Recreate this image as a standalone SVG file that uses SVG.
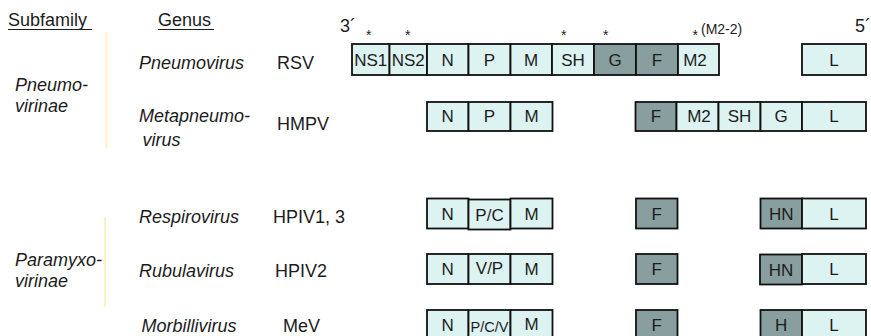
<svg xmlns="http://www.w3.org/2000/svg" width="871" height="336" viewBox="0 0 871 336">
  <style>
    text { font-family: "Liberation Sans", Arial, Helvetica, sans-serif; fill: #1c1c1c; }
    .hdr { font-size: 18px; }
    .it { font-size: 18px; font-style: italic; }
    .virus { font-size: 18px; }
    .end { font-size: 18px; }
    .star { font-size: 14px; }
    .note { font-size: 14px; }
    .gene { font-size: 17px; text-anchor: middle; }
    .small { font-size: 14px; text-anchor: middle; }
    .lt { fill: #dcf3f2; stroke: #111; stroke-width: 1.8; }
    .dk { fill: #899f9f; stroke: #111; stroke-width: 1.8; }
    .bracket { stroke: #fbf3c4; stroke-width: 2.2; fill: none; }
    .ul { stroke: #1c1c1c; stroke-width: 1.2; }
  </style>

  <!-- column headings -->
  <g id="headings">
    <text class="hdr" x="8" y="26">Subfamily</text>
    <line class="ul" x1="8" y1="29.5" x2="92" y2="29.5"/>
    <text class="hdr" x="158" y="26">Genus</text>
    <line class="ul" x1="158" y1="29.5" x2="214" y2="29.5"/>
  </g>

  <!-- subfamily brackets -->
  <g id="connectors">
    <line class="bracket" x1="106.5" y1="32" x2="106.5" y2="148"/>
    <line class="bracket" x1="105" y1="217" x2="105" y2="307"/>
  </g>

  <!-- subfamily labels -->
  <g id="pneumovirinae">
    <text class="it" x="15" y="91">Pneumo-</text>
    <text class="it" x="15" y="112">virinae</text>
  </g>
  <g id="paramyxovirinae">
    <text class="it" x="15" y="266">Paramyxo-</text>
    <text class="it" x="15" y="287">virinae</text>
  </g>

  <!-- genome ends and edited genes -->
  <g id="ends">
    <text class="end" x="340" y="32">3´</text>
    <text class="end" x="855" y="32">5´</text>
    <text class="star" x="366" y="40">*</text>
    <text class="star" x="405" y="40">*</text>
    <text class="star" x="561" y="40">*</text>
    <text class="star" x="603" y="40">*</text>
    <text class="star" x="692.5" y="40">*</text>
    <text class="note" x="701" y="34">(M2-2)</text>
  </g>

  <!-- RSV -->
  <g id="rsv">
    <text class="it" x="139" y="69">Pneumovirus</text>
    <text class="virus" x="277" y="69">RSV</text>
    <rect class="lt" x="352" y="44" width="37.5" height="31"/>
    <rect class="lt" x="389.5" y="44" width="37.5" height="31"/>
    <rect class="lt" x="427" y="44" width="41.5" height="31"/>
    <rect class="lt" x="468.5" y="44" width="42" height="31"/>
    <rect class="lt" x="510.5" y="44" width="41.5" height="31"/>
    <rect class="lt" x="552" y="44" width="42" height="31"/>
    <rect class="dk" x="594" y="44" width="42" height="31"/>
    <rect class="dk" x="636" y="44" width="42" height="31"/>
    <rect class="lt" x="678" y="44" width="41" height="31"/>
    <rect class="lt" x="802" y="44" width="64" height="31"/>
    <text class="gene" x="370.7" y="65.5">NS1</text>
    <text class="gene" x="408.2" y="65.5">NS2</text>
    <text class="gene" x="447.7" y="65.5">N</text>
    <text class="gene" x="489.5" y="65.5">P</text>
    <text class="gene" x="531.2" y="65.5">M</text>
    <text class="gene" x="573" y="65.5">SH</text>
    <text class="gene" x="615" y="65.5">G</text>
    <text class="gene" x="657" y="65.5">F</text>
    <text class="gene" x="695" y="65.5">M2</text>
    <text class="gene" x="834" y="65.5">L</text>
  </g>

  <!-- HMPV -->
  <g id="hmpv">
    <text class="it" x="139" y="122">Metapneumo-</text>
    <text class="it" x="142.5" y="146">virus</text>
    <text class="virus" x="277" y="130">HMPV</text>
    <rect class="lt" x="427" y="102" width="41.5" height="29"/>
    <rect class="lt" x="468.5" y="102" width="42" height="29"/>
    <rect class="lt" x="510.5" y="102" width="42" height="29"/>
    <rect class="dk" x="635.5" y="102" width="41" height="29"/>
    <rect class="lt" x="676.5" y="102" width="42" height="29"/>
    <rect class="lt" x="718.5" y="102" width="42" height="29"/>
    <rect class="lt" x="760.5" y="102" width="41.5" height="29"/>
    <rect class="lt" x="802" y="102" width="64" height="29"/>
    <text class="gene" x="447.7" y="122">N</text>
    <text class="gene" x="489.5" y="122">P</text>
    <text class="gene" x="531.5" y="122">M</text>
    <text class="gene" x="656" y="122">F</text>
    <text class="gene" x="699" y="122">M2</text>
    <text class="gene" x="739.5" y="122">SH</text>
    <text class="gene" x="781.2" y="122">G</text>
    <text class="gene" x="834" y="122">L</text>
  </g>

  <!-- HPIV1, 3 -->
  <g id="hpiv13">
    <text class="it" x="139" y="223">Respirovirus</text>
    <text class="virus" x="273" y="223">HPIV1, 3</text>
    <rect class="lt" x="427" y="198.5" width="41.5" height="30"/>
    <rect class="lt" x="468.5" y="199.5" width="42" height="30"/>
    <rect class="lt" x="510.5" y="198.5" width="42" height="30"/>
    <rect class="dk" x="636" y="198.5" width="41.5" height="30"/>
    <rect class="dk" x="760.5" y="198.5" width="41.5" height="30"/>
    <rect class="lt" x="802" y="198.5" width="64" height="30"/>
    <text class="gene" x="447.7" y="219.5">N</text>
    <text class="gene" x="489.5" y="220.5">P/C</text>
    <text class="gene" x="531.5" y="219.5">M</text>
    <text class="gene" x="656.7" y="219.5">F</text>
    <text class="gene" x="781.2" y="219.5">HN</text>
    <text class="gene" x="834" y="219.5">L</text>
  </g>

  <!-- HPIV2 -->
  <g id="hpiv2">
    <text class="it" x="139" y="277">Rubulavirus</text>
    <text class="virus" x="275" y="277">HPIV2</text>
    <rect class="lt" x="427" y="254" width="41.5" height="30"/>
    <rect class="lt" x="468.5" y="254" width="42" height="30"/>
    <rect class="lt" x="510.5" y="254" width="42" height="30"/>
    <rect class="dk" x="636" y="254" width="41.5" height="30"/>
    <rect class="dk" x="760" y="254.5" width="42" height="30"/>
    <rect class="lt" x="802" y="254" width="64" height="30"/>
    <text class="gene" x="447.7" y="275">N</text>
    <text class="gene" x="489.5" y="274">V/P</text>
    <text class="gene" x="531.5" y="275">M</text>
    <text class="gene" x="656.7" y="275">F</text>
    <text class="gene" x="781" y="275.5">HN</text>
    <text class="gene" x="834" y="275">L</text>
  </g>

  <!-- MeV -->
  <g id="mev">
    <text class="it" x="141.5" y="332">Morbillivirus</text>
    <text class="virus" x="283" y="332">MeV</text>
    <rect class="lt" x="427" y="310" width="41.5" height="30"/>
    <rect class="lt" x="468.5" y="310" width="42" height="30"/>
    <rect class="lt" x="510.5" y="310" width="42" height="30"/>
    <rect class="dk" x="636" y="310" width="41.5" height="30"/>
    <rect class="dk" x="760.5" y="310" width="41.5" height="30"/>
    <rect class="lt" x="802" y="310" width="64" height="30"/>
    <text class="gene" x="447.7" y="331">N</text>
    <text class="small" x="489.5" y="331.5" textLength="38" lengthAdjust="spacingAndGlyphs">P/C/V</text>
    <text class="gene" x="531.5" y="330">M</text>
    <text class="gene" x="656.7" y="331">F</text>
    <text class="gene" x="781.2" y="331">H</text>
    <text class="gene" x="834" y="331">L</text>
  </g>
</svg>
